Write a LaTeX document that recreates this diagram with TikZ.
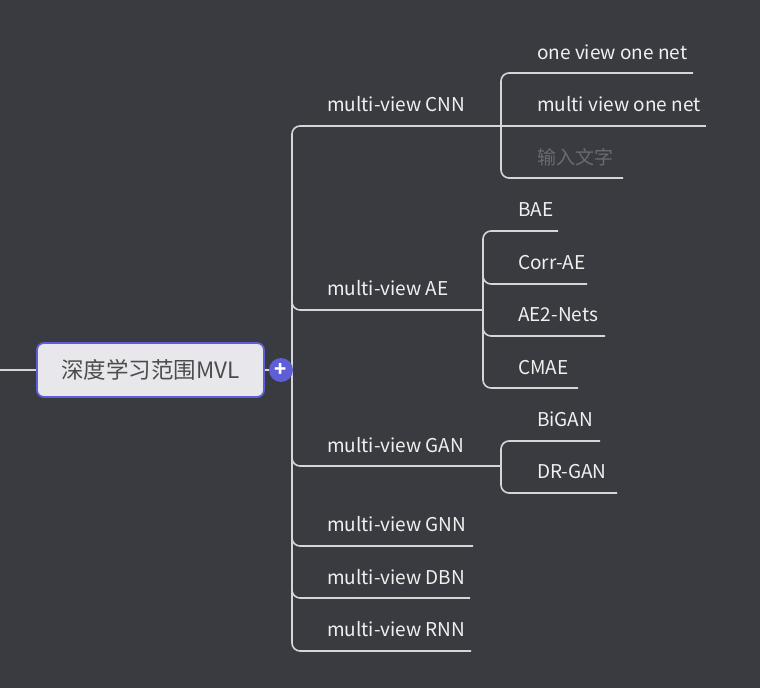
\documentclass[tikz,border=0pt]{standalone}
\usepackage{fontspec}
\setmainfont{Noto Sans CJK SC}
\begin{document}
\definecolor{bg}{HTML}{3A3B40}
\definecolor{ln}{HTML}{D6D6D8}
\definecolor{tx}{HTML}{F0F0F0}
\definecolor{ph}{HTML}{6A6B70}
\definecolor{pur}{HTML}{5E5ED6}
\definecolor{nodef}{HTML}{E8E8EC}
\begin{tikzpicture}[x=1pt,y=-1pt,
  lbl/.style={anchor=base west,text=tx,font=\fontsize{19}{22}\selectfont,inner sep=0},
  br/.style={draw=ln,line width=1.6pt,rounded corners=8pt}]
\fill[bg] (0,0) rectangle (760,688);
\useasboundingbox (0,0) rectangle (760,688);
% root
\coordinate (L) at (0,370);
\node[draw=pur,line width=1.8pt,fill=nodef,rounded corners=7pt,minimum width=227pt,minimum height=54pt,text=black!70,font=\fontsize{22.5}{26}\selectfont] (root) at (150.5,370) {深度学习范围MVL};
\draw[ln,line width=1.6pt] (L) -- (root.west);
\draw[ln,line width=1.6pt] (root.east) -- (292,370);
% trunk
\draw[br] (472,126) -- (292,126) -- (292,651) -- (471,651);
\draw[br] (292,300) -- (292,310) -- (483,310);
\draw[br] (292,456) -- (292,466) -- (501,466);
\draw[br] (292,536) -- (292,546) -- (473,546);
\draw[br] (292,588) -- (292,598) -- (470,598);
\node[circle,fill=pur,minimum size=24pt,inner sep=0,text=white,font=\bfseries\fontsize{20}{20}\selectfont] (plus) at (281,370) {+};
\node[lbl] (cnn) at (327,111) {multi-view CNN};
\node[lbl] (ae) at (327,295) {multi-view AE};
\node[lbl] (gan) at (327,452) {multi-view GAN};
\node[lbl] (gnn) at (327,531) {multi-view GNN};
\node[lbl] (dbn) at (327,584) {multi-view DBN};
\node[lbl] (rnn) at (327,636) {multi-view RNN};
% CNN children
\draw[br] (693,73) -- (501,73) -- (501,178) -- (623,178);
\draw[br] (472,126) -- (706,126);
\node[lbl] (c1) at (537,59) {one view one net};
\node[lbl] (c2) at (537,111) {multi view one net};
\node[lbl,text=ph] (c3) at (537,164) {输入文字};
% AE children
\draw[br] (558,231) -- (483,231) -- (483,388) -- (578,388);
\draw[br] (483,274) -- (483,284) -- (587,284);
\draw[br] (483,326) -- (483,336) -- (605,336);
\node[lbl] (a1) at (518,216) {BAE};
\node[lbl] (a2) at (518,269) {Corr-AE};
\node[lbl] (a3) at (518,321) {AE2-Nets};
\node[lbl] (a4) at (518,374) {CMAE};
% GAN children
\draw[br] (600,441) -- (501,441) -- (501,493) -- (617,493);
\node[lbl] (g1) at (537,426) {BiGAN};
\node[lbl] (g2) at (537,478) {DR-GAN};
\end{tikzpicture}
\end{document}
